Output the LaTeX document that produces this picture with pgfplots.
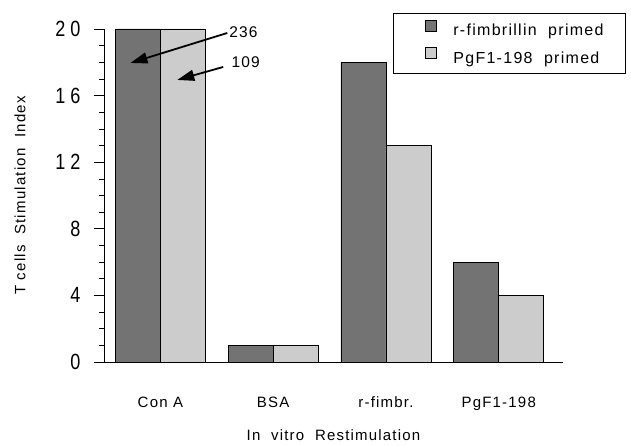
\documentclass[border=0pt]{standalone}
\usepackage{pgfplots}
\pgfplotsset{compat=1.18}
\usepackage{fontspec}
\setmainfont{Liberation Sans}
\newfontfamily\lsfont[LetterSpace=8]{Liberation Sans}
\newfontfamily\numfont[FakeStretch=0.82]{Liberation Sans}
\usetikzlibrary{arrows.meta}
\definecolor{darkbar}{gray}{0.45}
\definecolor{lightbar}{gray}{0.80}

\begin{document}
\begin{tikzpicture}
\begin{axis}[
scale only axis,
width=459pt,
height=333pt,
xmin=-0.5, xmax=3.57,
ymin=0, ymax=20,
axis lines*=left,
axis line style={line width=0.6pt},
ybar=0pt,
bar width=45pt,
xtick={0,1,2,3},
xticklabels={Con A, BSA, r-fimbr., PgF1-198},
x tick style={draw=none},
xticklabel style={font=\lsfont\fontsize{15}{16}\selectfont, yshift=-21pt},
ytick={0,4,8,12,16,20},
yticklabels={0,4,8,1\hspace{5pt}2,1\hspace{5pt}6,2\hspace{5pt}0},
yticklabel style={font=\numfont\fontsize{22}{23}\selectfont, xshift=-10pt},
minor y tick num=3,
tick align=outside,
major tick length=10pt,
minor tick length=5pt,
tick style={black, line width=0.6pt},
ylabel={T cells\ \ Stimulation\ \ Index},
ylabel style={font=\lsfont\fontsize{15}{16}\selectfont, yshift=23pt},
xlabel={In\ \ vitro\ \ Restimulation},
xlabel style={font=\lsfont\fontsize{15}{16}\selectfont, yshift=-13pt},
legend style={at={(0.6296,1.048)}, anchor=north west, draw=black, line width=0.8pt,
  font=\lsfont\fontsize{16}{17}\selectfont, inner xsep=6pt, inner ysep=6.5pt,
  row sep=8pt, cells={anchor=west}},
legend image code/.code={\path[draw=none,fill=none] (0pt,0pt) -- (52pt,0pt);
  \draw[#1, line width=0.6pt] (26pt,-0.5pt) rectangle (37pt,10.5pt);},
clip=false,
]
\addplot[fill=darkbar, draw=black, line width=0.6pt] coordinates {(0,20) (1,1) (2,18) (3,6)};
\addlegendentry{r-fimbrillin\ \ primed\rule{14pt}{0pt}}
\addplot[fill=lightbar, draw=black, line width=0.6pt] coordinates {(0,20) (1,1) (2,13) (3,4)};
\addlegendentry{PgF1-198\ \ primed}
\draw[-{Triangle[length=17pt,width=11pt]}, line width=1.8pt] (axis cs:0.593,19.76) -- (axis cs:-0.265,17.96);
\draw[-{Triangle[length=17pt,width=11pt]}, line width=1.8pt] (axis cs:0.557,17.72) -- (axis cs:0.15,16.94);
\node[anchor=west, inner sep=1pt, font=\lsfont\fontsize{15.5}{16}\selectfont] at (axis cs:0.60,19.82) {236};
\node[anchor=west, inner sep=1pt, font=\lsfont\fontsize{15.5}{16}\selectfont] at (axis cs:0.62,18.0) {109};
\draw[line width=0.6pt] (rel axis cs:0,0) -- ++(-10pt,0);
\end{axis}
\path (current axis.south west) ++(-104pt,-84pt) rectangle ++(631pt,446pt);
\end{tikzpicture}
\end{document}
